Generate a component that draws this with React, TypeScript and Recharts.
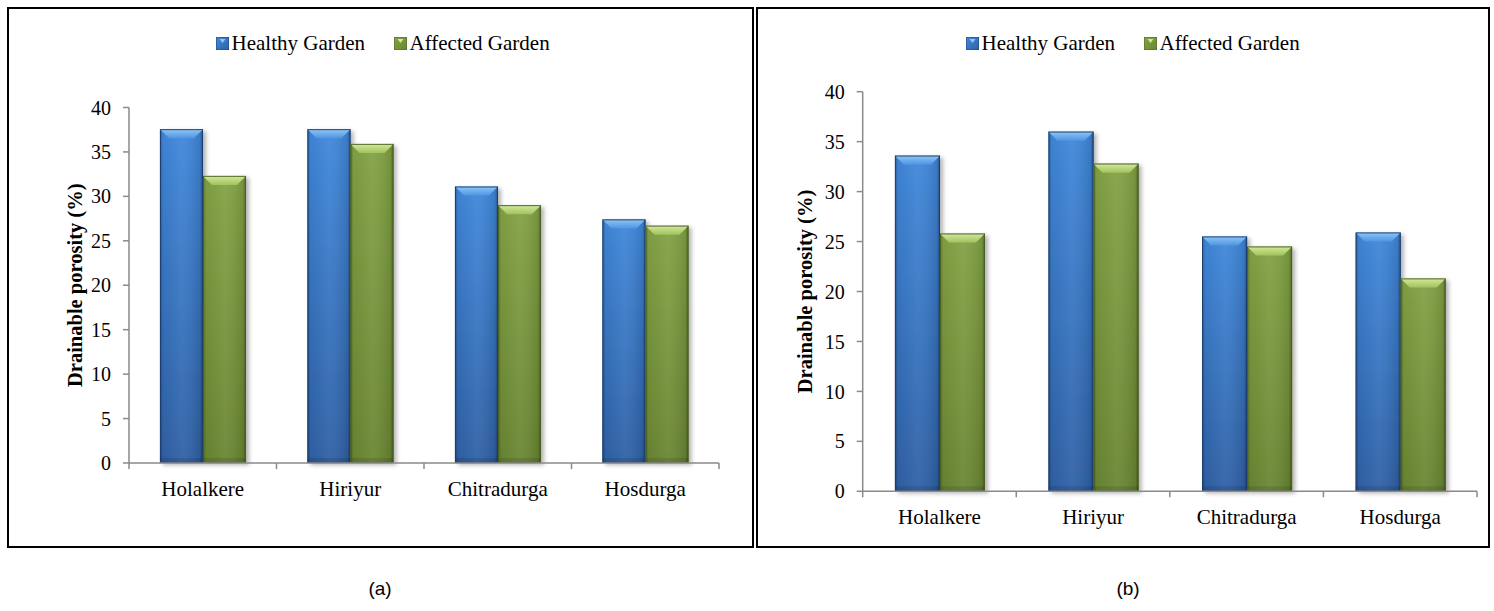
import React from "react";
import { BarChart, Bar, XAxis, YAxis, Label } from "recharts";

const districts = ["Holalkere", "Hiriyur", "Chitradurga", "Hosdurga"];
const healthyA = [37.55, 37.55, 31.1, 27.4];
const affectedA = [32.3, 35.9, 29.0, 26.7];
const healthyB = [33.6, 36.0, 25.5, 25.9];
const affectedB = [25.8, 32.8, 24.5, 21.3];
const yTicks = [0, 5, 10, 15, 20, 25, 30, 35, 40];
const seriesNames = ["Healthy Garden", "Affected Garden"];
const yTitle = "Drainable porosity (%)";

const AXIS = "#8a8a8a";
const SERIF = '"Liberation Serif", "Times New Roman", serif';
const SANS = '"Liberation Sans", Arial, sans-serif';

const palettes: Record<string, any> = {
  healthy: { light: "#8ec6f6", mid: "#4f95e2", body0: "#4088db", body1: "#2f61a6", stroke: "#1b3b6c" },
  affected: { light: "#d2e89e", mid: "#a2c35c", body0: "#83a345", body1: "#6a8733", stroke: "#4a5f22" },
};

const makeBar = (key: string, prefix: string) => (props: any) => {
  const { x, y, width: w, height: h } = props;
  if (!h || h <= 0) return <g />;
  const p = palettes[key];
  const b = Math.min(9, w / 4, h / 2);
  return (
    <g>
      <rect x={x} y={y} width={w} height={h} fill={`url(#${prefix}-${key}-body)`} filter={`url(#${prefix}-shadow)`} />
      <rect x={x} y={y} width={w} height={h} fill={`url(#${prefix}-edge)`} />
      <polygon
        points={`${x},${y} ${x + w},${y} ${x + w - b},${y + b} ${x + b},${y + b}`}
        fill={`url(#${prefix}-${key}-top)`}
      />
      <rect x={x} y={y + h - 5} width={w} height={5} fill="#000" opacity={0.1} />
      <rect x={x + 0.4} y={y + 0.4} width={w - 0.8} height={h - 0.8} fill="none" stroke={p.stroke} strokeWidth={0.9} />
    </g>
  );
};

const XTick = (props: any) => {
  const { x, y, payload, index, visibleTicksCount, bandHalf } = props;
  const half = payload && payload.offset ? payload.offset : bandHalf;
  const axisY = y - 6;
  return (
    <g>
      <line x1={x - half} x2={x - half} y1={axisY} y2={axisY + 6} stroke={AXIS} strokeWidth={1.5} />
      {index === visibleTicksCount - 1 && (
        <line x1={x + half} x2={x + half} y1={axisY} y2={axisY + 6} stroke={AXIS} strokeWidth={1.5} />
      )}
      <text x={x} y={axisY + 33} textAnchor="middle" fill="#000" fontSize={21} fontFamily={SERIF}>
        {payload.value}
      </text>
    </g>
  );
};

const LegendIcon = ({ k }: { k: string }) => {
  const p = palettes[k];
  return (
    <svg width={13} height={13} style={{ display: "block" }}>
      <defs>
        <linearGradient id={`lg-${k}`} x1="0" y1="0" x2="1" y2="1">
          <stop offset="0" stopColor={p.body0} />
          <stop offset="1" stopColor={p.body1} />
        </linearGradient>
      </defs>
      <rect x={0} y={0} width={13} height={13} fill={`url(#lg-${k})`} stroke={p.stroke} strokeWidth={0.8} />
      <polygon points="3.5,2 9.5,2 6.5,6" fill={p.light} />
    </svg>
  );
};

const ChartLegend = ({ left, top }: { left: number; top: number }) => (
  <div style={{ position: "absolute", left, top, display: "flex", alignItems: "center", fontFamily: SERIF, fontSize: 21, color: "#000", whiteSpace: "nowrap" }}>
    {["healthy", "affected"].map((k, i) => (
      <div key={k} style={{ display: "flex", alignItems: "center", marginRight: i === 0 ? 29 : 0 }}>
        <LegendIcon k={k} />
        <span style={{ marginLeft: 2.5, lineHeight: "13px" }}>{seriesNames[i]}</span>
      </div>
    ))}
  </div>
);

type PanelProps = {
  prefix: string;
  healthy: number[];
  affected: number[];
  box: { left: number; top: number; width: number; height: number };
  margin: { top: number; right: number; bottom: number; left: number };
  labelDx: number;
  legendLeft: number;
  bandHalf: number;
};

const Panel = ({ prefix, healthy, affected, box, margin, labelDx, legendLeft, bandHalf }: PanelProps) => {
  const data = districts.map((d, i) => ({ district: d, healthy: healthy[i], affected: affected[i] }));
  return (
    <>
      <div
        style={{
          position: "absolute",
          left: box.left - 2,
          top: box.top - 2,
          width: box.width,
          height: box.height,
          border: "2.5px solid #000",
        }}
      />
      <div style={{ position: "absolute", left: box.left, top: box.top }}>
        <BarChart width={box.width - 2} height={box.height - 2} data={data} margin={margin} barGap={0} barCategoryGap="21%">
          <defs>
            <filter id={`${prefix}-shadow`} x="-20%" y="-5%" width="150%" height="115%">
              <feDropShadow dx="3" dy="2" stdDeviation="2" floodColor="#000" floodOpacity="0.3" />
            </filter>
            <linearGradient id={`${prefix}-edge`} x1="0" y1="0" x2="1" y2="0">
              <stop offset="0" stopColor="#000" stopOpacity="0.3" />
              <stop offset="0.07" stopColor="#000" stopOpacity="0.04" />
              <stop offset="0.5" stopColor="#fff" stopOpacity="0.05" />
              <stop offset="0.93" stopColor="#000" stopOpacity="0.1" />
              <stop offset="1" stopColor="#000" stopOpacity="0.4" />
            </linearGradient>
            {["healthy", "affected"].map((k) => (
              <React.Fragment key={k}>
                <linearGradient id={`${prefix}-${k}-body`} x1="0" y1="0" x2="0" y2="1">
                  <stop offset="0" stopColor={palettes[k].body0} />
                  <stop offset="1" stopColor={palettes[k].body1} />
                </linearGradient>
                <linearGradient id={`${prefix}-${k}-top`} x1="0" y1="0" x2="0" y2="1">
                  <stop offset="0" stopColor={palettes[k].light} />
                  <stop offset="1" stopColor={palettes[k].mid} />
                </linearGradient>
              </React.Fragment>
            ))}
          </defs>
          <XAxis
            dataKey="district"
            interval={0}
            height={30}
            axisLine={{ stroke: AXIS, strokeWidth: 1.5 }}
            tickLine={false}
            tickSize={6}
            tickMargin={0}
            tick={<XTick bandHalf={bandHalf} />}
          />
          <YAxis
            width={70}
            domain={[0, 40]}
            ticks={yTicks}
            interval={0}
            axisLine={{ stroke: AXIS, strokeWidth: 1.5 }}
            tickLine={{ stroke: AXIS, strokeWidth: 1.5 }}
            tickSize={6}
            tickMargin={12}
            tick={{ fill: "#000", fontSize: 20, fontFamily: SERIF }}
          >
            <Label
              content={(lp: any) => {
                const vb = lp.viewBox || {};
                const cx = vb.x + labelDx;
                const cy = vb.y + vb.height / 2;
                return (
                  <text
                    x={cx}
                    y={cy}
                    transform={`rotate(-90 ${cx} ${cy})`}
                    textAnchor="middle"
                    dominantBaseline="central"
                    fontFamily={SERIF}
                    fontWeight="bold"
                    fontSize={20.5}
                    fill="#000"
                  >
                    {yTitle}
                  </text>
                );
              }}
            />
          </YAxis>
          <Bar dataKey="healthy" name={seriesNames[0]} shape={makeBar("healthy", prefix)} isAnimationActive={false} />
          <Bar dataKey="affected" name={seriesNames[1]} shape={makeBar("affected", prefix)} isAnimationActive={false} />
        </BarChart>
      </div>
      <ChartLegend left={legendLeft} top={37} />
    </>
  );
};

export default function App() {
  return (
    <div style={{ position: "absolute", left: 0, top: 0, width: 1494, height: 611, background: "#fff", overflow: "hidden" }}>
      <Panel
        prefix="pa"
        healthy={healthyA}
        affected={affectedA}
        box={{ left: 9, top: 9, width: 743, height: 537 }}
        margin={{ top: 98.5, right: 31, bottom: 51, left: 50 }}
        labelDx={15.5}
        legendLeft={216}
        bandHalf={73.6}
      />
      <Panel
        prefix="pb"
        healthy={healthyB}
        affected={affectedB}
        box={{ left: 758, top: 9, width: 730, height: 537 }}
        margin={{ top: 82.7, right: 9, bottom: 22.7, left: 34.7 }}
        labelDx={12.3}
        legendLeft={966}
        bandHalf={76.8}
      />
      <div style={{ position: "absolute", left: 340, top: 578, width: 80, textAlign: "center", fontFamily: SANS, fontSize: 19, color: "#000" }}>(a)</div>
      <div style={{ position: "absolute", left: 1088, top: 578, width: 80, textAlign: "center", fontFamily: SANS, fontSize: 19, color: "#000" }}>(b)</div>
    </div>
  );
}
